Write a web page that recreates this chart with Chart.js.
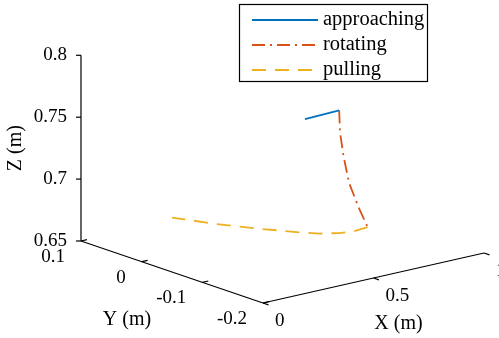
<!DOCTYPE html>
<html>
<head>
<meta charset="utf-8">
<script src="https://cdn.jsdelivr.net/npm/chart.js@4.4.1/dist/chart.umd.min.js"></script>
<style>
  body { margin: 0; background: #fff; }
  #wrap { width: 499px; height: 338px; position: relative; }
</style>
</head>
<body>
<div id="wrap"><canvas id="traj"></canvas></div>
<script>
// trajectory samples (m)
const approachX = [0.544, 0.707];
const approachY = [-0.071, -0.068];
const approachZ = [0.755, 0.755];

const rotateX = [0.707, 0.711, 0.721, 0.738, 0.765, 0.792];
const rotateY = [-0.068, -0.068, -0.070, -0.073, -0.079, -0.084];
const rotateZ = [0.755, 0.737, 0.718, 0.696, 0.676, 0.660];

const pullX = [0.792, 0.721, 0.667, 0.608, 0.564, 0.525, 0.483, 0.440, 0.404, 0.352, 0.335];
const pullY = [-0.084, -0.087, -0.083, -0.071, -0.055, -0.036, -0.018, 0.005, 0.025, 0.061, 0.072];
const pullZ = [0.660, 0.660, 0.660, 0.660, 0.660, 0.660, 0.660, 0.660, 0.660, 0.660, 0.660];

const xTicks = [0, 0.5, 1];
const yTicks = [0.1, 0, -0.1, -0.2];
const zTicks = [0.65, 0.7, 0.75, 0.8];
const xTickLabels = ['0', '0.5', '1'];
const yTickLabels = ['0.1', '0', '-0.1', '-0.2'];
const zTickLabels = ['0.65', '0.7', '0.75', '0.8'];

const seriesNames = ['approaching', 'rotating', 'pulling'];
const colors = ['#0072BD', '#D95319', '#EDB120'];
const dashes = [[], [13, 5, 2, 5], [14, 9]];

// box limits
const xMin = 0, xMax = 1, yMin = -0.2, yMax = 0.1, zMin = 0.65, zMax = 0.8;

// simple oblique view of the 3D box onto the page plane
function project(x, y, z) {
  return {
    x: 263 + 221 * (x - xMin) - 606.7 * (y - yMin),
    y: 303 - 50 * (x - xMin) - 206.7 * (y - yMin) - 1238 * (z - zMin)
  };
}

function toPoints(xs, ys, zs) {
  return xs.map((v, i) => project(v, ys[i], zs[i]));
}

const FONT = '19px "Liberation Serif", "Times New Roman", serif';
const TITLE_FONT = '20px "Liberation Serif", "Times New Roman", serif';
const LEGEND_FONT = '20.5px "Liberation Serif", "Times New Roman", serif';

const boxAxes = {
  id: 'boxAxes',
  beforeDatasetsDraw(chart) {
    const ctx = chart.ctx;
    const sx = chart.scales.x, sy = chart.scales.y;
    const P = (x, y, z) => {
      const p = project(x, y, z);
      return { x: sx.getPixelForValue(p.x), y: sy.getPixelForValue(p.y) };
    };
    const line = (a, b) => {
      ctx.beginPath(); ctx.moveTo(a.x, a.y); ctx.lineTo(b.x, b.y); ctx.stroke();
    };
    ctx.save();
    ctx.strokeStyle = '#000';
    ctx.lineWidth = 1.2;
    ctx.fillStyle = '#000';
    ctx.font = FONT;

    // z axis at back-left corner
    line(P(xMin, yMax, zMin), P(xMin, yMax, zMax));
    // y axis along x = 0
    line(P(xMin, yMax, zMin), P(xMin, yMin, zMin));
    // x axis along y = -0.2
    line(P(xMin, yMin, zMin), P(xMax, yMin, zMin));

    // z ticks
    ctx.textAlign = 'right';
    ctx.textBaseline = 'middle';
    zTicks.forEach((t, i) => {
      const p = P(xMin, yMax, t);
      line(p, { x: p.x - 5, y: p.y });
      ctx.fillText(zTickLabels[i], p.x - 14, p.y);
    });

    // y ticks (pointing along +x)
    yTicks.forEach((t, i) => {
      const p = P(xMin, t, zMin);
      const q = P(0.027, t, zMin);
      line(p, q);
      ctx.fillText(yTickLabels[i], p.x - 16, p.y + 16);
    });

    // x ticks (pointing outwards, -y)
    ctx.textAlign = 'left';
    xTicks.forEach((t, i) => {
      const p = P(t, yMin, zMin);
      const q = P(t, yMin - 0.009, zMin);
      line(p, q);
      ctx.fillText(xTickLabels[i], p.x + 12, p.y + 18);
    });

    // axis titles
    ctx.font = TITLE_FONT;
    ctx.textAlign = 'center';
    const ym = P(xMin, (yMin + yMax) / 2, zMin);
    ctx.fillText('Y (m)', ym.x - 45, ym.y + 48);
    const xm = P((xMin + xMax) / 2, yMin, zMin);
    ctx.fillText('X (m)', xm.x + 25, xm.y + 46);
    const zm = P(xMin, yMax, (zMin + zMax) / 2);
    ctx.translate(zm.x - 65, zm.y);
    ctx.rotate(-Math.PI / 2);
    ctx.fillText('Z (m)', 0, 0);
    ctx.restore();
  }
};

const boxLegend = {
  id: 'boxLegend',
  afterDraw(chart) {
    const ctx = chart.ctx;
    ctx.save();
    ctx.fillStyle = '#fff';
    ctx.fillRect(239, 4, 189, 78);
    ctx.strokeStyle = '#000';
    ctx.lineWidth = 1.2;
    ctx.strokeRect(239.5, 4.5, 188, 77);
    ctx.font = LEGEND_FONT;
    ctx.textAlign = 'left';
    ctx.textBaseline = 'middle';
    chart.data.datasets.forEach((ds, i) => {
      const yy = 20 + i * 25;
      ctx.strokeStyle = ds.borderColor;
      ctx.lineWidth = 1.8;
      ctx.setLineDash(ds.borderDash);
      ctx.beginPath(); ctx.moveTo(252, yy); ctx.lineTo(318, yy); ctx.stroke();
      ctx.setLineDash([]);
      ctx.fillStyle = '#000';
      ctx.fillText(ds.label, 323, yy);
    });
    ctx.restore();
  }
};

const config = {
  type: 'scatter',
  data: {
    datasets: [
      { label: seriesNames[0], data: toPoints(approachX, approachY, approachZ) },
      { label: seriesNames[1], data: toPoints(rotateX, rotateY, rotateZ) },
      { label: seriesNames[2], data: toPoints(pullX, pullY, pullZ) }
    ].map((d, i) => Object.assign(d, {
      showLine: true,
      borderColor: colors[i],
      backgroundColor: colors[i],
      borderDash: dashes[i],
      borderWidth: 1.8,
      pointRadius: 0,
      tension: 0
    }))
  },
  options: {
    responsive: true,
    maintainAspectRatio: false,
    animation: false,
    layout: { padding: 0 },
    plugins: { legend: { display: false }, tooltip: { enabled: false } },
    scales: {
      x: { type: 'linear', min: 0, max: 499, display: false },
      y: { type: 'linear', min: 0, max: 338, reverse: true, display: false }
    }
  },
  plugins: [boxAxes, boxLegend]
};

const ctx = document.getElementById('traj');
const trajChart = new Chart(ctx, config);
</script>
</body>
</html>
